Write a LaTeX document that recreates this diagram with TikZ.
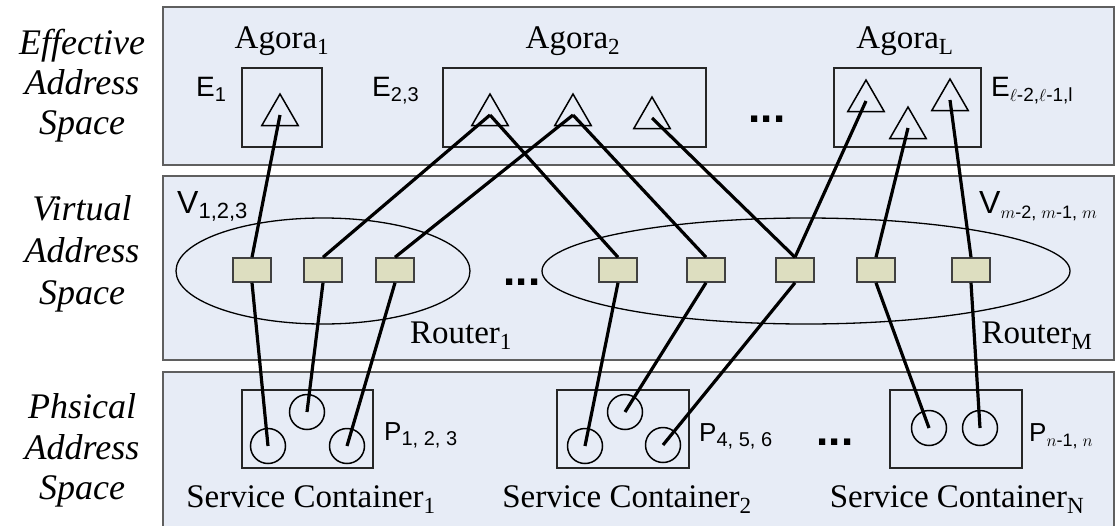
\documentclass[tikz,border=0pt]{standalone}
\usepackage{fontspec}
\setmainfont{Liberation Serif}
\newfontfamily\sansf{Liberation Sans}
\usetikzlibrary{shapes.geometric}
\definecolor{panelfill}{RGB}{231,236,246}
\definecolor{panelborder}{RGB}{95,95,95}
\definecolor{routerfill}{RGB}{221,222,192}
\newcommand\lowsub[2]{\raisebox{-5pt}{\fontsize{#1}{#1}\selectfont #2}}
\begin{document}
\begin{tikzpicture}[x=1pt,y=-1pt,
 panel/.style={fill=panelfill,draw=panelborder,line width=2.2pt},
 grp/.style={draw=black!85,line width=1.5pt},
 tri/.style={regular polygon,regular polygon sides=3,draw=black,line width=1.5pt,minimum size=42pt,inner sep=0pt},
 rbox/.style={rectangle,draw=black!75,fill=routerfill,line width=1.5pt,minimum width=38pt,minimum height=24pt,inner sep=0pt},
 pc/.style={circle,draw=black,line width=1.5pt,minimum size=35pt,inner sep=0pt},
 link/.style={line width=3.2pt,black},
 serif/.style={font=\fontsize{33}{36}\selectfont,inner sep=0pt,anchor=base},
 side/.style={font=\fontsize{36}{40}\selectfont\itshape,inner sep=0pt,anchor=base},
 sanslbl/.style={font=\sansf\fontsize{28}{32}\selectfont,inner sep=0pt,anchor=base west},
 dots/.style={font=\sansf\bfseries\fontsize{44}{48}\selectfont,inner sep=0pt,anchor=base}
]
\useasboundingbox (0,0) rectangle (1119,525);
\clip (0,0) rectangle (1119,525);
\fill[white] (0,0) rectangle (1119,525);

% panels
\draw[panel] (163,7) rectangle (1114,165);
\draw[panel] (163,176) rectangle (1114,360);
\draw[panel] (163,372) rectangle (1114,540);

% side labels
\node[side] (l1a) at (82,54) {Effective};
\node[side] (l1b) at (82,94) {Address};
\node[side] (l1c) at (82,134) {Space};
\node[side] (l2a) at (82,220) {Virtual};
\node[side] (l2b) at (82,262) {Address};
\node[side] (l2c) at (82,304) {Space};
\node[side] (l3a) at (82,418) {Phsical};
\node[side] (l3b) at (82,459) {Address};
\node[side] (l3c) at (82,499) {Space};

% effective address space
\draw[grp] (242,68) rectangle (322,147);
\draw[grp] (443,68) rectangle (706,147);
\draw[grp] (834,68) rectangle (981,147);
\node[serif] (ag1) at (282,48) {Agora\textsubscript{1}};
\node[serif] (ag2) at (573,48) {Agora\textsubscript{2}};
\node[serif] (agL) at (905,48) {Agora\textsubscript{L}};
\node[sanslbl] (e1) at (196,96) {E\lowsub{20}{1}};
\node[sanslbl] (e23) at (372,96) {E\lowsub{20}{2,3}};
\node[sanslbl] (eL) at (991,96) {E\lowsub{19}{$\ell$-2,$\ell$-1,l}};
\node[dots] (dt) at (767,122) {...};
\node[tri] (t1) at (280,115) {};
\node[tri] (t2) at (490,115) {};
\node[tri] (t3) at (573,115) {};
\node[tri] (t4) at (652,118) {};
\node[tri] (t5) at (866,101) {};
\node[tri] (t6) at (908,128) {};
\node[tri] (t7) at (950,100) {};

% virtual address space
\draw[line width=1.3pt] (323,271) ellipse [x radius=147pt, y radius=53pt];
\draw[line width=1.3pt] (806,271) ellipse [x radius=264pt, y radius=53pt];
\node[sanslbl,font=\sansf\fontsize{32}{36}\selectfont] (v1) at (177,213) {V\lowsub{22}{1,2,3}};
\node[sanslbl,font=\sansf\fontsize{32}{36}\selectfont] (vm) at (979,213) {V\lowsub{18}{$m$-2, $m$-1, $m$}};
\node[serif] (rt1) at (461,343) {Router\textsubscript{1}};
\node[serif] (rtM) at (1037,343) {Router\textsubscript{M}};
\node[dots] (dm) at (522,285) {...};
\node[rbox] (r1) at (252,270) {};
\node[rbox] (r2) at (323,270) {};
\node[rbox] (r3) at (395,270) {};
\node[rbox] (r4) at (618,270) {};
\node[rbox] (r5) at (706,270) {};
\node[rbox] (r6) at (795,270) {};
\node[rbox] (r7) at (876,270) {};
\node[rbox] (r8) at (971,270) {};

% physical address space
\draw[grp] (242,390) rectangle (373,468);
\draw[grp] (557,390) rectangle (689,468);
\draw[grp] (890,390) rectangle (1022,468);
\node[pc] (c1) at (268,446) {};
\node[pc] (c2) at (307,412) {};
\node[pc] (c3) at (347,446) {};
\node[pc] (c4) at (585,446) {};
\node[pc] (c5) at (625,412) {};
\node[pc] (c6) at (663,445) {};
\node[pc] (c7) at (929,428) {};
\node[pc] (c8) at (980,428) {};
\node[sanslbl,font=\sansf\fontsize{26}{30}\selectfont] (p1) at (384,440) {P\lowsub{20}{1, 2, 3}};
\node[sanslbl,font=\sansf\fontsize{26}{30}\selectfont] (p4) at (699,441) {P\lowsub{20}{4, 5, 6}};
\node[sanslbl,font=\sansf\fontsize{26}{30}\selectfont] (pn) at (1029,441) {P\lowsub{18}{$n$-1, $n$}};
\node[dots] (db) at (835,445) {...};
\node[serif] (sc1) at (311,507) {Service Container\textsubscript{1}};
\node[serif] (sc2) at (627,507) {Service Container\textsubscript{2}};
\node[serif] (scN) at (957,507) {Service Container\textsubscript{N}};

% links effective -> virtual
\draw[link] (t1.center) -- (r1.north);
\draw[link] (t2.center) -- (r2.north);
\draw[link] (t2.center) -- (r4.north);
\draw[link] (t3.center) -- (r3.north);
\draw[link] (t3.center) -- (r5.north);
\draw[link] (t4.center) -- (r6.north);
\draw[link] (t5.center) -- (r6.north);
\draw[link] (t6.center) -- (r7.north);
\draw[link] (t7.center) -- (r8.north);
% links virtual -> physical
\draw[link] (r1.south) -- (c1.center);
\draw[link] (r2.south) -- (c2.center);
\draw[link] (r3.south) -- (c3.center);
\draw[link] (r4.south) -- (c4.center);
\draw[link] (r5.south) -- (c5.center);
\draw[link] (r6.south) -- (c6.center);
\draw[link] (r7.south) -- (c7.center);
\draw[link] (r8.south) -- (c8.center);
\end{tikzpicture}
\end{document}
